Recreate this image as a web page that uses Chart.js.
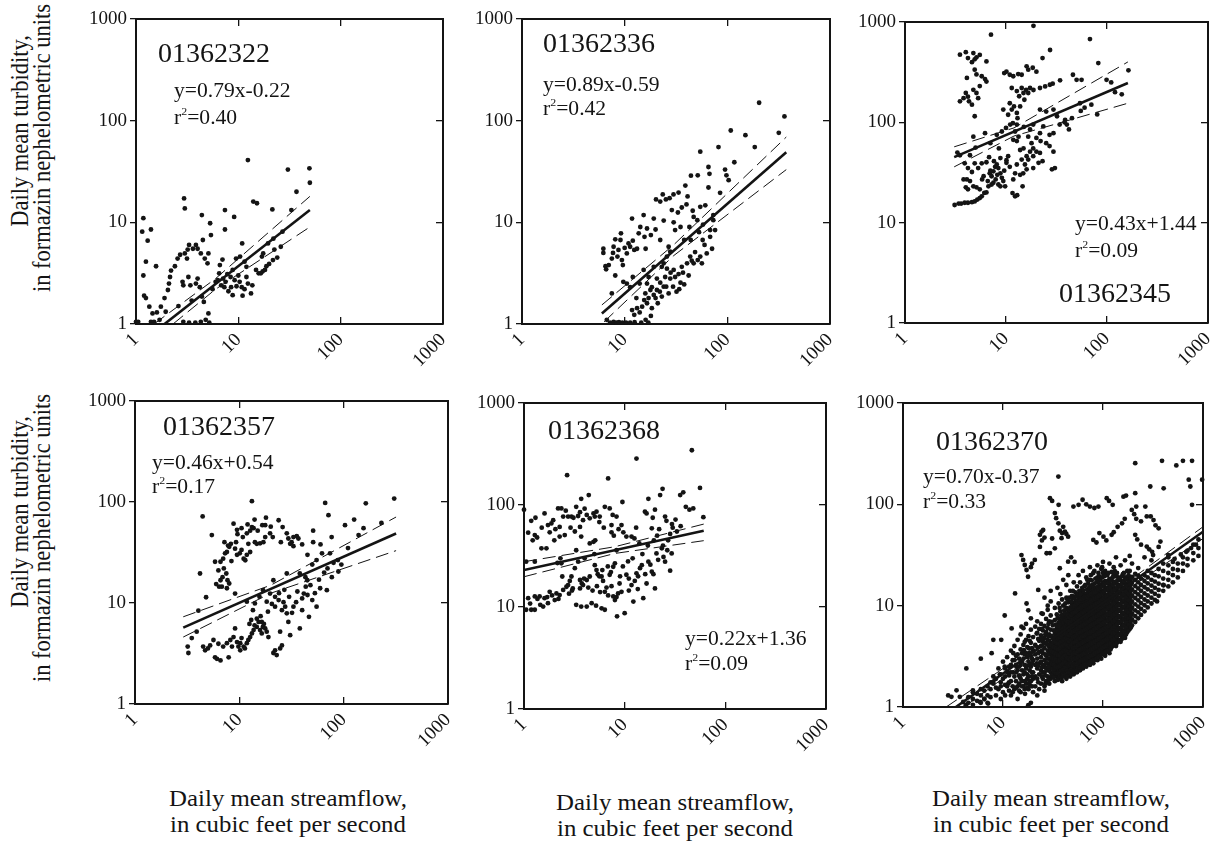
<!DOCTYPE html>
<html>
<head>
<meta charset="utf-8">
<script src="https://cdn.jsdelivr.net/npm/chart.js@4.4.0/dist/chart.umd.min.js"></script>
<style>
  body { margin:0; background:#fff; width:1214px; height:844px; position:relative; overflow:hidden;
         font-family:"Liberation Serif", "Times New Roman", serif; color:#141414; }
  canvas { position:absolute; }
  .t { position:absolute; white-space:nowrap; line-height:1; }
  .id { font-size:28px; }
  .eq { font-size:20px; transform:scaleX(1.08); transform-origin:left top; }
  .eq sup { font-size:11px; vertical-align:9px; line-height:0; }
  .xt { font-size:23px; transform:translateX(-50%) scaleX(1.08); text-align:center; }
  .yt { font-size:22.5px; transform:translate(-50%,-50%) rotate(-90deg) scaleY(1.08); }
</style>
</head>
<body>

<div class="t yt" style="left:21px;top:131px">Daily mean turbidity,</div>
<div class="t yt" style="left:43px;top:148px">in formazin nephelometric units</div>
<div class="t yt" style="left:21px;top:512px">Daily mean turbidity,</div>
<div class="t yt" style="left:43px;top:538px">in formazin nephelometric units</div>

<div class="t xt" style="left:288px;top:787px">Daily mean streamflow,</div>
<div class="t xt" style="left:288px;top:813px">in cubic feet per second</div>
<div class="t xt" style="left:675px;top:791px">Daily mean streamflow,</div>
<div class="t xt" style="left:675px;top:817px">in cubic feet per second</div>
<div class="t xt" style="left:1051px;top:787px">Daily mean streamflow,</div>
<div class="t xt" style="left:1051px;top:813px">in cubic feet per second</div>

<script>
// station labels and fit equations, one per panel
const stations = ['01362322', '01362336', '01362345', '01362357', '01362368', '01362370'];
const equations = ['y=0.79x-0.22', 'y=0.89x-0.59', 'y=0.43x+1.44', 'y=0.46x+0.54', 'y=0.22x+1.36', 'y=0.70x-0.37'];
const rsq = ['0.40', '0.42', '0.09', '0.17', '0.09', '0.33'];

const decades = [1, 10, 100, 1000];

// [streamflow cfs, turbidity FNU]
const pts1 = [[1.0,1.05],[1.05,1.05],[1.15,8.1],[1.18,11],[1.3,6.6],[1.4,8.5],[1.25,4.1],[1.18,3.0],[1.2,1.9],[1.25,1.8],[1.35,1.48],[1.45,1.27],[1.4,1.05],[1.5,1.05],[1.57,3.7],[1.6,1.3],[1.75,1.48],[1.7,1.1],[1.9,1.8],[2.05,2.16],[1.95,1.32],[2.1,2.5],[2.15,2.9],[2.2,3.35],[2.4,3.7],[2.55,4.4],[2.7,4.8],[2.95,17.2],[3.0,13.7],[2.85,2.6],[2.9,2.4],[3.0,4.95],[3.2,5.4],[3.3,6.0],[3.15,4.4],[3.25,2.9],[3.4,2.4],[3.6,5.5],[3.85,6.0],[4.0,5.5],[4.3,4.95],[4.5,6.7],[4.4,11.8],[3.85,2.5],[4.0,2.8],[4.2,2.3],[4.4,1.86],[4.6,1.65],[4.7,4.4],[5.0,3.95],[5.1,4.95],[5.3,9.8],[5.4,7.5],[5.1,1.27],[4.8,1.1],[2.9,1.05],[3.3,1.03],[3.8,1.03],[4.3,1.05],[5.2,1.03],[2.6,1.5],[3.5,1.7],[5.6,2.2],[6.0,2.6],[6.3,2.7],
  [7.4,13.2],[7.4,8.5],[7.0,4.3],[6.5,3.15],[7.1,2.8],[7.5,2.6],[8.4,2.9],[8.8,3.4],[9.5,4.4],[9.1,11.3],[8.8,1.92],[8.5,2.3],[9.6,2.35],[10.3,2.6],[10.8,2.3],[11.0,1.9],[10.9,6.2],[10.4,4.6],[11.5,4.1],[12.4,41],[12,3.65],[12,2.9],[12.4,2.5],[13.3,2.0],[13.7,2.4],[14,16],[15.2,15.4],[14.9,3.4],[15.8,3.15],[16.6,3.15],[17.3,3.3],[18.2,3.4],[18.8,3.7],[17,4.6],[17.5,4.95],[19.5,6.2],[21.5,13.4],[22,6.9],[22.5,5.4],[21.8,4.25],[26,5.75],[27,8.1],[30.5,33],[33,13.2],[37,20],[49.5,34],[50,24.5],[6.6,3.8],[7.3,2.3],[8,2.1],[9.2,2.7],[10,3.0],[11.5,2.2],[24,4.5],[20,3.9],[7.8,3.1],[6.8,2.4]];

const pts2 = [[6.2,5.5],[6.2,5.0],[6.5,3.7],[6.6,3.45],[7.0,3.8],[7.5,4.4],[7.8,5.75],[8.1,6.8],[7.7,5.0],[8.1,3.0],[8.7,5.35],[9.1,6.7],[9.2,7.8],[9.4,4.25],[9.6,3.8],[10.5,4.95],[10.9,6.2],[11.3,5.75],[11.8,10.9],[12.4,5.35],[13.2,5.5],[13.7,7.8],[14.2,9.0],[15.3,11.8],[15.6,7.2],[16.5,8.7],[19.2,10.9],[20.2,16.8],[22.2,16],[23.5,18.8],[22.2,6.7],[25.2,16.8],[27.4,17.3],[28.8,13.2],[29.9,18.8],[33.5,19.6],[39,23],[41,18],[44.2,28.8],[51.5,29],[54.5,49.5],[65.5,35],[67,30],[65.5,22],[82,55],[85,19.5],[95,33],[98,29],[103,26],[108,80],[117,39],[150,72],[185,55],[204,150],[317,76],[360,110],
  [6.7,1.1],[7.2,1.03],[7.8,1.05],[8.3,1.03],[8.8,1.04],[9.5,1.03],[10.3,1.03],[11.3,1.03],[12.5,1.04],[14.5,1.03],[17,1.03],[7.5,2.0],[9.7,2.6],[10.5,2.5],[11.3,2.3],[12,2.9],[11.8,1.37],[12.4,1.23],[13.2,1.43],[14,1.3],[14.8,1.48],[15.5,1.72],[15.9,2.0],[16.5,1.6],[17.1,1.8],[17.8,2.16],[18.4,1.43],[18.4,2.3],[19.2,1.93],[20,1.8],[20.6,2.16],[20.6,2.8],[22,2.08],[22.2,2.55],[23,1.86],[24,2.33],[24.8,2.9],[25.4,2.33],[25.8,3.5],[26.8,2.0],[27.8,2.8],[28,3.2],[29.6,2.33],[30,3.4],[31,2.9],[32,2.08],[33.5,3.1],[35,2.55],[36,3.65],[38,2.45],[40.5,3.95],[42,3.0],[43.5,4.6],[44,6.7],[47,3.95],[48.5,5.1],[51.5,4.25],[54.5,4.6],[56.5,3.95],[57.5,6.7],[63,4.95],[68,8.4],[71,5.5],[73,10.5],[42.7,9],[38,6.7],[35,9],[31,8.4],[26.8,5.75],[27.8,5.15],[25.8,4.6],[24,3.95],[23,3.65],[19.2,3.65],[17.1,2.9],[15.3,3.4],[14,2.5],[16.5,2.5],[51,10.5],[47,11.3],[54.5,14.2],[61,14.7],[73,11.8],[76,8.4],[68,7.2],[13,1.8],[21,1.6],[18,1.2],[16,1.1],[34,2.2],[37,3.2],[45,4.2],[60,6],[53,8],[58,9.5],[8.5,4.6],[10,5.6],[12,6.6],[16,5.5],[18,7.5],[20,8.5],[24,10.4],[30,10],[33,12.5],[36,14],[46,13],[40,15]];

const pts3 = [[3.5,472],[4.0,500],[4.2,437],[4.75,490],[4.9,425],[4.6,398],[5.1,445],[5.5,470],[6.4,405],[4.1,277],[4.9,335],[5.1,300],[5.5,230],[5.75,288],[6.2,270],[6.4,255],[3.5,162],[3.8,174],[4.0,196],[4.2,180],[4.3,162],[4.6,150],[4.75,211],[5.1,196],[5.3,174],[4.9,115],[7.1,748],[18.7,915],[67.8,676],[27.3,526],[23,437],
  [9.6,310],[10.1,320],[10.9,298],[11.8,288],[13.2,303],[14.3,298],[16,362],[16.6,335],[18.4,350],[20,320],[11.4,220],[12.8,205],[13.5,182],[14.3,220],[14.9,196],[15.2,168],[15.8,210],[16.6,196],[17.3,220],[10.9,155],[11.4,134],[12,144],[12.8,124],[10.5,119],[9.4,134],[13.8,144],[18.7,210],[21.7,220],[24.4,228],[27.2,237],[29,243],[34.3,262],[46,298],[50,265],[56,265],[82,390],[99,265],[163,330],[54,155],[38.5,106],[34,95],[29.5,78],[27,75],[23.4,91],[21.7,78],[18.6,95],[17.3,85],[16.6,72],[21.7,134],[25,128],[29.5,134],[17.9,62],[18.6,55],[17.3,51],[16,46],[14.9,55],[13.8,53],[14.3,42.5],[15.4,38],[16.6,42.5],[18.6,46],[20,51],[21.7,49.5],[23,41],[21,39.5],[18.6,35],[16,34],[14.8,31],[13.8,30],[12.8,38],[12.3,31],[11.8,27],[14.6,23],[11.6,19.7],[12.3,18.3],[12.9,18.8],[11.8,67],[12.3,81],[12.8,95],[11.7,98],[12.8,65],[13.3,72],[29.5,51],[28.5,34],[30.5,35],[10.9,36],[10.1,39.5],[10.5,46],[8.8,44],[9.1,81],[8.1,75],[6.2,78],[4.75,72],[40,95],[45,110],[55,130],[60,140],[70,150],[80,120],[110,250],[120,200],[140,190],[25,62],[27,58],[20,70],[22,65],[15,90],[13,110],[11,95],[10,88],[38,100],[32,115],[42,85],[7,62],[8.5,55],
  [3.1,15],[3.4,15.5],[3.6,15.5],[3.9,15.8],[4.2,15.8],[4.6,16],[4.9,16.3],[5.2,17],[5.5,17.6],[5.75,18.3],[6.1,19.8],[6.4,20],[6.7,23],[3.8,27],[4.1,27],[4.4,26],[4.75,23],[5.1,22.5],[5.5,21.5],[4.0,22.5],[4.2,21.5],[3.5,47],[3.9,39],[4.4,47],[4.9,39],[5.3,35],[5.75,39],[6.9,31],[7.2,29],[7.5,32.5],[7.8,36],[8.1,38],[8.4,35],[8.8,31],[9.1,28],[9.4,26],[7.9,27],[7.5,25],[7.2,24],[8.4,24],[8.8,23],[9.8,23],[10.1,42],[6.4,40],[6.0,29],[4.2,35],[6.6,26],[7.0,33],[5.8,27],[3.3,50],[4.6,32],[9.6,33],[8.2,30],[7.6,41],[6.8,45],[5.0,56]];

const pts4 = [[3.2,3.7],[3.25,3.2],[3.5,4.5],[3.9,5.2],[4.05,8.4],[4.2,19.6],[4.45,72],[4.8,11.4],[4.5,3.7],[4.7,3.4],[5.0,3.55],[5.25,3.8],[5.45,47],[5.65,4.3],[5.85,25.6],[5.85,2.9],[6.1,2.8],[6.3,3.95],[6.3,21],[6.6,25.6],[6.6,16.8],[6.8,14.5],[6.0,15.4],[6.4,14.5],[7.1,22],[7.5,19.6],[7.0,27.5],[7.3,31],[7.6,32],[7.8,37],[8.0,36],[7.7,16.8],[8.0,15.6],[7.6,14],[8.3,38.5],[8.8,61],[9.5,53],[9.1,34.5],[9.5,30],[10.1,31],[10.5,33.5],[11,27.5],[11.4,26.5],[11.8,30],[12.2,38.5],[12.7,32],[10.5,55],[11.8,49],[12.7,52],[13.2,56.5],[13.7,55],[14.1,40],[14.7,38.5],[15.8,39],[16.6,59],[17.7,59],[17.7,45],[17,40],[13.2,102],[19.7,49],[20.9,45],[23.8,66],[26,56.5],[28.5,49],[29.5,43.5],[30.7,38.5],[31.7,40],[33,36.5],[35.5,46],[36.8,43.5],[51,52],[51,40],[66.5,98],[71.5,74],[76.7,45],[126,67],[139,47],[155,55],[163,97],[230,62],[305,108],[103,59],
  [7.0,3.7],[7.6,4.0],[8.2,4.3],[8.5,3.7],[8.8,4.6],[9.1,5.6],[9.5,4.1],[9.8,3.7],[10.2,4.0],[10.5,4.5],[11,3.7],[11.8,4.0],[12.2,4.3],[12.7,4.6],[13.2,5.0],[13.7,5.4],[14.7,5.8],[15.3,6.5],[16.4,5.0],[16.8,5.8],[17.7,5.6],[18.3,5.2],[19,4.6],[14.7,7.0],[16.4,6.5],[13.5,8.5],[14.1,9.9],[15.6,11.5],[16.9,13.4],[19.7,12.4],[18.3,10.3],[22,9.2],[23.8,10.7],[25.6,8.5],[27.5,9.2],[28.5,7.9],[29.5,6.5],[30.7,4.8],[33,9.2],[38,5.6],[40,11.1],[41.5,12.4],[43.3,14.5],[44.8,16.8],[46.5,7.3],[50,10.7],[55,9.2],[59.5,14],[69,13.4],[21.2,3.2],[22,3.4],[22.8,3.05],[24.6,3.55],[25.6,3.8],[7.9,2.9],[6.6,2.7],[10.2,3.4],[11.3,3.55],[24.6,5.2],[11.8,10.3],[9.1,12.4],[21.2,16.8],[28.5,19.6],[38,19.6],[43,18],[55,26.6],[62,31],[74,31],[88,26.6],[89,20.5],[77,18],[12.5,6.2],[13,6.8],[14,6.0],[15.8,5.4],[16,7.4],[17.2,6.2],[18.8,8.2],[20.5,9.8],[22,11.5],[24,12.5],[26.5,10.2],[27,13.5],[30,11.5],[32,8.0],[35,10.2],[36,13],[40,8.5],[45,12],[48,15],[53,12.5],[58,17],[65,20],[70,22],[80,25],[95,24],[110,35],[8.4,26],[9.3,40],[10.8,45],[7.2,40],[6.9,18],[12,60],[15,52],[20,57],[25,40],[33,45],[40,38],[45,30],[50,24],[60,38],[18,70],[14,67],[9.6,48]];

const pts5 = [[1.1,53.5],[1.18,70],[1.28,50.7],[1.35,48],[1.49,37.6],[1.6,82.6],[1.73,63.5],[1.8,54],[1.87,66],[1.95,71],[2.05,58],[2.18,92.5],[2.26,61],[2.35,92.5],[2.45,77],[2.26,49],[2.54,50.7],[2.68,196],[2.74,77],[2.96,77],[3.1,75],[3.3,96],[3.45,78],[3.7,115],[3.6,61],[3.86,71],[4.2,80],[4.4,125],[4.5,74],[4.9,82.6],[5.05,77],[5.25,86],[5.65,77],[3.7,49],[4.5,42],[4.9,43.5],[5.1,45],[6.35,96],[6.85,182],[7.1,92.5],[7.4,63.5],[7.6,80],[7.4,54],[7.8,50],[8.3,77],[9.5,107],[9.3,63.5],[9.7,54],[10.4,49],[11.7,49],[13.1,285],[12.5,47],[15.9,86],[16.5,82.6],[17.2,115],[18.6,59],[19,75],[20,90],[22.5,125],[23.8,144],[25.2,77],[26,70],[28.3,52],[29.5,65],[32,72],[35.6,125],[38.2,133],[40.5,96],[44,90],[46.5,344],[48,92.5],[56,147],[60.5,76],[30,60],[22,58],[21,50],[19.5,45],[17,40],[24,40],[27,45],[33,55],[36,62],[14,42],[13,60],[8.7,58],[6.2,60],[5.6,68],[2.9,60],[3.2,55],[2.0,45],[1.5,60],[1.3,75],[1.0,90],[1.22,45],[3.6,85],[4.0,92],[2.6,88],
  [1.05,9.4],[1.1,12.2],[1.18,9.4],[1.28,9.4],[1.28,12.7],[1.36,12],[1.43,12.7],[1.55,10.1],[1.6,12.2],[1.73,10.9],[1.8,14.1],[1.9,13],[2.02,11.7],[2.1,13.6],[2.26,13.1],[2.45,14.7],[2.4,19.9],[2.64,15.8],[2.74,16.4],[2.85,18],[2.96,19.9],[3.2,24],[3.45,27.8],[3.6,15.2],[3.75,17],[3.86,16.4],[4.2,18.4],[4.35,15.5],[4.5,19.9],[5.05,25.7],[5.25,23],[5.4,21],[5.6,20],[5.9,19.9],[6.1,18],[6.35,14.1],[6.6,15.5],[6.85,13],[7.1,20.7],[7.3,22],[7.7,24.8],[8.0,26.8],[8.3,36],[7.4,16],[7.7,12.7],[8.0,11.7],[8.3,12.5],[8.6,13.6],[8.9,17],[9.3,14.1],[8.4,8.1],[10,8.7],[10.4,20.7],[11,19],[11.7,16.4],[12.2,11.3],[12.6,18],[13.1,21.4],[13.6,20],[14.2,24],[14.8,25.7],[15.3,12.2],[16,21],[17.2,27.8],[18.6,22.2],[19.3,21],[20,15.2],[20.7,33.5],[21.5,29],[23.4,37.6],[24.3,31],[25.2,27.8],[26.5,36],[28.3,22.7],[29.3,33.5],[1.67,37.6],[1.28,27.8],[1.05,27.8],[2.35,26.8],[2.15,27],[3.05,15.2],[3.3,10.5],[3.7,10.1],[4.2,10.1],[4.7,10.9],[5.2,10.3],[5.9,9.7],[6.35,9.4],[3.6,18.4],[3.95,19],[2.8,13.5],[3.0,14.5],[2.2,12],[1.7,12.5],[1.45,10.5],[1.15,10.8],[4.8,14.5],[5.3,16],[5.7,14],[6.0,23],[6.8,25],[9.6,25],[10.8,28],[12,30],[15,33],[9,20],[11,14.5],[13.5,15],[16.5,17],[18,26],[2.3,30],[4.0,30],[3.3,36],[5.0,33]];

// panel 6: scattered points, then the dense core as [flow, turbidity, turbidity, ...] columns
const pts6 = [[210,255],[389,269],[541,242],[630,269],[777,269],[720,175],[747,150],[980,175],[777,99],[297,150],[404,144],[35.8,188],[29.5,115],[31,108],[36,99],[50.6,95],[57,99],[62.5,111],[68,100],[74,95],[82,92],[90,95],[109,115],[115,108],[125,99],[160,119],[170,122],[210,129],[215,95],[265,95],[33,82],[34,73],[35.8,65],[40,60],[41.6,53.8],[43,51],[44.8,48],[38.5,46.4],[37,55],[39,52],[31,46],[33,36.8],[24.3,53.8],[25.2,55.8],[23.4,50],[26,47],[24.5,44],[23.4,38],[27.3,32.9],[29.5,33],[37,23.4],[44.8,27.2],[48,30],[52,27],[15.3,31.6],[15.9,28.3],[16.5,25.2],[17.2,22.5],[19.5,26],[20.8,28.3],[19,24],[17.8,19.3],[80,44.5],[86,42],[92,52],[101,48],[108,44],[122,50],[128,53],[140,60],[155,65],[165,72],[194,88],[205,80],[215,72],[240,68],[274,76],[300,76],[320,70],[335,62],[360,58],[210,50],[220,45],[240,40],[274,38.3],[290,36],[310,34],[375,42.9],[360,38],[317,31.6],[450,31.6],[520,29],[600,32],[680,34],[760,37],[850,40],[404,15.9],[347,11],[13.2,13.2],[10.4,8],[8,4.6],[6,3.0],[4.3,2.4],[7.7,3.4],[5,1.46],[2.83,1.3],[3.05,1.26],[3.43,1.46],[3.7,1.26],[4,1.12],[4.25,1.04],[5.9,1.12],[6.5,1.2],[7.1,1.08],[8.0,1.77],[9.3,2.1],[9.6,4.6],[10.4,2.5],[11.3,1.7],[11.9,2.2],[12.2,5.96],[12.7,3.4],[13.6,2.5],[14.7,1.98],[16.2,3.63],[16.6,1.35],[17.9,1.04],[15.3,6.2],[17.2,10.5],[17.9,9.0],[21.7,5.3],[22.5,14.3],[24.3,8.4],[21.7,2.7],[26,12],[30,14],[35,15],[40,18],[45,20],[28,10],[14,1.2],[22,1.3],[26,1.45],[19,1.1]];
const core6 = [
  [8,1.7,2.0],[9,1.5,2.4],[10,1.4,1.9,2.8],[11,1.6,2.2,3.1],[12,1.3,1.8,2.6,3.6],[13,1.5,2.0,2.9,4.0],[14,1.6,2.3,3.3,4.6],
  [15,1.4,1.9,2.6,3.7,5.2],[16,1.6,2.1,3.0,4.1,6.0],[17,1.7,2.4,3.4,4.6,6.6],[18,1.5,2.0,2.8,3.8,5.0],[19,1.8,2.5,3.2,4.3,5.8,7.5],
  [20,1.4,1.9,2.2,2.9,3.6,4.9],[21,1.6,2.0,2.6,3.3,4.1,6.2],[22,1.9,2.4,3.0,3.9,5.4,7.0],[23,1.5,2.1,2.7,3.5,4.5,5.9],
  [24,1.7,2.3,2.8,3.1,4.0,5.1,6.6],[25,1.9,2.2,2.6,3.4,4.4,5.7,8.3],[26,1.6,2.2,2.5,2.9,3.8,4.8,6.3],[27,1.8,2.4,2.7,3.2,4.2,5.5,7.4],
  [28,2.0,2.3,2.7,3.0,3.6,4.6,6.0,9.1],[29,1.7,2.3,2.6,3.0,3.4,3.9,5.2,7.0],[30,1.9,2.2,2.5,2.8,3.3,3.7,4.3,5.8,8.0,11],
  [31.5,2.1,2.4,2.8,3.2,3.7,4.2,4.8,6.4],[33,1.8,2.1,2.4,2.8,3.2,3.6,4.1,4.7,5.3,7.2,9.5],[34.5,2.0,2.3,2.6,3.0,3.5,4.0,4.5,5.2,6.0,8.2],
  [36,1.9,2.3,2.6,3.0,3.4,3.9,4.4,5.0,5.8,6.8,10.5],[37.5,2.1,2.4,2.8,3.2,3.6,4.1,4.7,5.4,6.2,7.3,8.8,13],
  [39,1.8,2.2,2.5,2.9,3.3,3.7,4.2,4.8,5.5,6.4,7.5,11.5],[41,2.2,2.5,2.9,3.3,3.8,4.3,4.9,5.6,6.5,7.6,9.0],
  [43,1.9,2.3,2.6,3.0,3.4,3.9,4.4,5.0,5.7,6.6,7.8,9.5,12,16],[45,2.1,2.4,2.8,3.2,3.7,4.2,4.8,5.5,6.3,7.3,8.6,10.8],
  [47,2.0,2.5,2.8,3.2,3.6,4.1,4.7,5.3,6.1,7.0,8.2,9.6,14],[49,2.3,2.6,3.0,3.4,3.9,4.4,5.0,5.8,6.6,7.6,8.8,10.4,12.5],
  [51,2.1,2.4,2.7,3.1,3.5,4.0,4.5,5.2,5.9,6.8,7.8,9.0,10.5,17],[53,2.4,2.8,3.1,3.6,4.0,4.6,5.2,6.0,6.9,7.9,9.2,11,13.5],
  [55,2.2,2.6,2.9,3.3,3.7,4.2,4.8,5.5,6.2,7.1,8.1,9.5,11.2,15.5],[57,2.5,2.9,3.3,3.8,4.3,4.9,5.6,6.4,7.3,8.5,9.8,12,20],
  [59,2.3,2.7,3.0,3.5,3.9,4.5,5.1,5.8,6.6,7.6,8.7,10.2,12,17],[61,2.6,3.0,3.4,3.9,4.5,5.1,5.8,6.7,7.7,8.9,10.4,14],
  [63,2.4,2.8,3.1,3.6,4.1,4.6,5.3,6.0,6.9,7.9,9.1,10.8,12.8,22],[65,2.7,3.1,3.6,4.1,4.7,5.4,6.1,7.0,8.0,9.3,10.8,13,15.5],
  [68,2.5,2.9,3.3,3.8,4.3,4.9,5.6,6.4,7.3,8.4,9.6,11.2,13,19],[71,2.8,3.2,3.7,4.2,4.9,5.6,6.4,7.3,8.4,9.7,11.3,13.6,16.5],
  [74,2.6,3.0,3.5,4.0,4.5,5.2,5.9,6.8,7.7,8.8,10.1,11.8,13.8,18,24],[77,3.0,3.4,3.9,4.5,5.1,5.9,6.7,7.7,8.9,10.3,12,14.5,17.8],
  [80,2.7,3.1,3.6,4.1,4.7,5.4,6.2,7.1,8.1,9.3,10.7,12.4,14.6,21],[84,3.1,3.6,4.1,4.7,5.4,6.2,7.1,8.2,9.4,10.8,12.6,15,18.5],
  [88,2.9,3.3,3.8,4.4,5.0,5.7,6.5,7.5,8.6,9.9,11.4,13.2,15.2,19,25],[92,3.3,3.8,4.3,5.0,5.7,6.5,7.5,8.6,9.9,11.5,13.3,16,19.5],
  [96,3.0,3.5,4.0,4.6,5.2,6.0,6.9,7.9,9.1,10.5,12,14,16.2,23],[100,3.5,4.0,4.6,5.3,6.0,6.9,7.9,9.1,10.5,12.1,14,17,21,27],
  [105,3.2,3.7,4.2,4.8,5.5,6.3,7.2,8.3,9.6,11,12.7,15,17.5,22],[110,3.7,4.3,4.9,5.6,6.4,7.3,8.4,9.7,11.1,12.8,15,17.5,20],
  [116,3.4,3.9,4.5,5.2,5.9,6.8,7.7,8.9,10.2,11.8,13.6,15.8,18.4,26],[122,3.9,4.5,5.2,5.9,6.8,7.8,9.0,10.3,11.8,13.7,16,18.5,21.5],
  [128,4.3,4.9,5.6,6.5,7.4,8.5,9.7,11.2,12.9,15,17.2,20,24],[135,4.0,4.6,5.3,6.1,7.0,8.0,9.2,10.6,12.2,14,16.5,19.5,30],
  [142,4.6,5.3,6.0,6.9,7.9,9.1,10.4,12,13.8,16,19],[150,4.4,5.1,5.8,6.7,7.6,8.8,10,11.5,13.2,15.3,17.8,25],
  [158,5.0,5.7,6.5,7.5,8.5,9.8,11.2,12.9,14.8,17.3,20.5],[166,4.8,5.5,6.3,7.2,8.2,9.5,10.8,12.4,14.2,16.5,19,28],
  [175,5.5,6.3,7.2,8.2,9.4,10.8,12.4,14.3,16.4,19,22],[185,5.9,6.8,7.8,8.9,10.2,11.7,13.4,15.5,17.7,22,31],
  [195,6.4,7.3,8.4,9.6,11,12.6,14.5,16.8,19.2,26],[210,6.9,7.9,9.0,10.3,11.9,13.6,15.6,18,20.6],
  [225,7.5,8.6,9.8,11.3,12.9,14.8,17,19.8,23.5],[240,8.1,9.3,10.6,12.2,14,16,18.5],[260,8.8,10.1,11.5,13.2,15.2,17.5,20,30],
  [280,9.6,11,12.6,14.5,16.6,19,22],[305,10.5,12,13.8,15.8,18,21,28],[330,11.4,13.1,15,17.3,20],[360,12.5,14.3,16.5,19.5,23],
  [400,14,16,18.5,22,26],[450,15.5,18,21,25,30],[500,17,20,23,27],[560,19,22.5,26],[630,22,26,30],[700,25,29,35],
  [800,28,33,40],[900,31,37,45]];
// second pass over the blackest part of the core, between the columns above
const core6b = [
  [22.5,1.75,2.55,3.4,4.7],[24.5,2.0,2.45,3.6,4.7,5.9],[26.5,1.7,2.05,3.3,4.3,5.2],[28.5,1.85,2.5,3.3,4.1,5.0,6.6],
  [30.7,2.05,2.65,3.05,3.5,4.0,5.0,6.9],[32.2,1.95,2.25,2.6,3.0,3.45,3.9,4.4,5.7],[33.8,2.15,2.5,2.95,3.35,3.8,4.35,4.95,5.6,6.5],
  [35.2,1.85,2.15,2.45,2.8,3.25,3.7,4.25,4.75,5.5,6.3,7.6],[36.8,2.0,2.5,2.85,3.25,3.75,4.2,4.85,5.35,6.2,7.0,9.5],
  [38.2,1.95,2.3,2.65,3.05,3.45,3.95,4.45,5.1,5.9,6.8,8.0],[40,2.0,2.35,2.7,3.1,3.55,4.05,4.6,5.25,6.0,6.9,8.2,10],
  [42,2.1,2.45,2.75,3.2,3.6,4.15,4.7,5.35,6.1,7.1,8.4,10.5],[44,2.0,2.3,2.65,3.05,3.5,4.0,4.6,5.2,5.95,6.9,8.0,9.2,11.5],
  [46,2.2,2.6,2.95,3.4,3.9,4.45,5.1,5.75,6.6,7.7,9.1,12],[48,2.1,2.35,2.7,3.1,3.55,4.05,4.6,5.3,6.05,7.0,8.0,9.3,11],
  [50,2.25,2.55,2.95,3.35,3.8,4.3,4.9,5.55,6.3,7.3,8.4,9.8,11.8,14],[52,2.3,2.65,3.0,3.45,3.85,4.35,4.95,5.65,6.5,7.4,8.6,10,12],
  [54,2.3,2.6,2.95,3.4,3.9,4.45,5.05,5.8,6.6,7.6,8.8,10.3,12.5],[56,2.4,2.75,3.1,3.55,4.05,4.6,5.25,6.0,6.85,7.9,9.1,10.6,13],
  [58,2.4,2.8,3.2,3.65,4.2,4.8,5.45,6.2,7.0,8.1,9.3,11,14],[60,2.45,2.85,3.2,3.7,4.2,4.75,5.45,6.25,7.2,8.3,9.6,11.5,13],
  [62,2.5,2.9,3.3,3.8,4.3,4.95,5.6,6.4,7.4,8.5,9.8,11.6,15],[64,2.55,2.95,3.35,3.85,4.4,5.0,5.7,6.55,7.5,8.6,10,11.9,14],
  [66.5,2.6,3.0,3.4,3.95,4.5,5.15,5.85,6.7,7.7,8.9,10.3,12.2,16],[69.5,2.65,3.05,3.5,4.0,4.6,5.3,6.0,6.9,7.9,9.1,10.5,12.3,14.5,18],
  [72.5,2.7,3.1,3.55,4.1,4.7,5.35,6.1,7.0,8.1,9.3,10.8,12.6,15],[75.5,2.8,3.2,3.7,4.25,4.85,5.5,6.3,7.25,8.3,9.6,11.1,13,15.7,20],
  [78.5,2.85,3.25,3.75,4.3,4.9,5.6,6.45,7.4,8.5,9.8,11.4,13.3,16],[82,2.9,3.35,3.85,4.4,5.05,5.8,6.65,7.6,8.75,10.1,11.7,13.6,16.5,22],
  [86,3.0,3.45,3.95,4.55,5.2,6.0,6.85,7.85,9.0,10.4,12,14,17],[90,3.1,3.55,4.1,4.7,5.4,6.2,7.1,8.1,9.3,10.7,12.4,14.5,17.5,21],
  [94,3.2,3.65,4.2,4.85,5.55,6.4,7.3,8.4,9.6,11.1,12.8,15,18],[98,3.3,3.8,4.35,5.0,5.75,6.6,7.55,8.7,10,11.5,13.3,15.5,19,24],
  [102.5,3.4,3.9,4.5,5.15,5.9,6.8,7.8,9.0,10.3,11.9,13.8,16.2,19.5],[107.5,3.5,4.0,4.6,5.3,6.1,7.0,8.0,9.2,10.6,12.2,14.2,16.6,20],
  [113,3.6,4.15,4.75,5.45,6.25,7.2,8.25,9.5,10.9,12.6,14.6,17,21],[119,3.7,4.25,4.9,5.6,6.45,7.4,8.5,9.8,11.3,13,15,17.6],
  [125,4.0,4.6,5.3,6.0,6.9,7.95,9.1,10.5,12,13.9,16,19],[131,4.1,4.7,5.4,6.2,7.1,8.2,9.4,10.8,12.4,14.4,16.8,22],
  [138,4.3,4.95,5.7,6.5,7.5,8.6,9.9,11.3,13,15,17.5,21],[146,4.5,5.2,5.95,6.85,7.85,9.0,10.3,11.9,13.7,15.8,18.5],
  [154,4.7,5.4,6.2,7.1,8.2,9.4,10.8,12.4,14.3,16.5,19.5],[162,4.9,5.6,6.45,7.4,8.5,9.8,11.3,13,15,17.5,21],
  [170,5.2,6.0,6.85,7.9,9.0,10.4,11.9,13.7,15.8,18.2],[180,5.7,6.5,7.5,8.6,9.8,11.3,13,14.9,17.1,20],
  [190,6.1,7.0,8.0,9.2,10.6,12.2,14,16.1,18.4]];
// the dense tail running down the fitted line toward the lower left
const core6c = [
  [4.5,1.1,1.25],[5,1.05,1.2,1.4],[5.5,1.15,1.35],[6,1.1,1.3,1.5],[6.5,1.2,1.45],[7,1.1,1.3,1.6],[7.5,1.25,1.5,1.75],
  [8.5,1.3,1.55,1.9],[9.5,1.2,1.6,1.75,2.1],[10.5,1.3,1.65,2.0,2.4],[11.5,1.45,1.75,2.05,2.5],[12.5,1.4,1.6,2.2,2.9],
  [13.5,1.55,1.8,2.2,2.6,3.2],[14.5,1.45,1.7,2.05,2.5,3.0],[15.5,1.6,1.8,2.3,2.8,3.4],[16.5,1.5,1.8,2.2,2.6,3.3,4.4],
  [17.5,1.55,1.9,2.1,2.55,3.1,3.9],[18.5,1.65,1.8,2.3,2.6,3.4,4.5],[19.5,1.6,2.0,2.2,2.7,3.0,3.8]];

// regression line and its two confidence curves, read at their ends and near the middle
const fit1 = [[1.9,1],[50,13.2]],  hi1 = [[1.5,1],[6,2.8],[50,18]],    lo1 = [[2.3,1],[6,2.2],[50,9]];
const fit2 = [[6,1.27],[375,49]],  hi2 = [[6,1.54],[30,6.0],[375,69]], lo2 = [[6.3,1.05],[30,4.7],[375,33]];
const fit3 = [[3.07,45],[161,247]], hi3 = [[3.07,57],[12,88],[161,400]], lo3 = [[3.07,36],[12,73],[161,155]];
const fit4 = [[2.9,5.7],[318,48.8]], hi4 = [[2.9,7.3],[20,15],[318,71]], lo4 = [[2.9,4.6],[20,12.5],[318,33]];
const fit5 = [[1,23],[61,56]],     hi5 = [[1,27.8],[8,39],[61,65]],   lo5 = [[1,19.8],[8,33.5],[61,44.7]];
const fit6 = [[3.38,1],[1000,53.7]], hi6 = [[2.7,1],[60,7.9],[1000,60]], lo6 = [[4.1,1],[60,7.1],[1000,46]];

// plot boxes on the page: left, top, right, bottom
const boxes = [[136,19,443,324],[522,19,830,324],[905,22,1208,323],[135,401,448,704],[524,403,826,709],[903,403,1203,707]];
// text anchors: [id x, id baseline, eq x, eq baseline, r2 baseline]
const notes = [[158,62,174,97,124],[543,52,543,91,115],[1059,302,1075,230,257],[163,435,152,469,493],[548,439,685,645,670],[936,450,923,483,508]];

const INK = '#141414';
const FONT = 'Liberation Serif';
const YW = 60, XH = 56, PT = 14, PR = 5;

const toXY = arr => arr.map(([x, y]) => ({ x, y }));
const decadeTicks = s => { s.ticks = decades.map(v => ({ value: v })); };
const unfold = rows => rows.flatMap(([x, ...ys]) => ys.map(y => [x, y]));

function logAxis(pos, extra) {
  const horiz = pos === 'top' || pos === 'bottom';
  return Object.assign({
    type: 'logarithmic', position: pos, axis: horiz ? 'x' : 'y', min: 1, max: 1000,
    afterBuildTicks: decadeTicks,
    ticks: { display: false },
    grid: { drawOnChartArea: false, tickLength: -7, color: INK, lineWidth: 1.3 },
    border: { color: INK, width: 2 },
    afterFit: s => {
      if (horiz) { s.height = 0; s.paddingLeft = 0; s.paddingRight = 0; }
      else { s.width = 0; s.paddingTop = 0; s.paddingBottom = 0; }
    }
  }, extra);
}

function lineSet(pts, width, dash) {
  return { data: toXY(pts), showLine: true, pointRadius: 0, borderColor: INK,
           borderWidth: width, borderDash: dash, fill: false };
}

function panel(i, pts, fit, hi, lo) {
  const [l, t, r, b] = boxes[i];
  const cv = document.createElement('canvas');
  cv.width = YW + (r - l) + PR;
  cv.height = PT + (b - t) + XH;
  cv.style.left = (l - YW) + 'px';
  cv.style.top = (t - PT) + 'px';
  document.body.appendChild(cv);

  new Chart(cv, {
    type: 'scatter',
    data: {
      datasets: [
        lineSet(fit, 2.6, []),
        lineSet(hi, 1, [13, 6]),
        lineSet(lo, 1, [13, 6]),
        { data: toXY(pts), pointRadius: 2.4, pointBackgroundColor: INK, pointBorderWidth: 0, clip: false }
      ]
    },
    options: {
      responsive: false, animation: false, events: [],
      layout: { padding: { top: PT, right: PR, left: 0, bottom: 0 } },
      plugins: { legend: { display: false }, tooltip: { enabled: false } },
      scales: {
        x: logAxis('bottom', {
          ticks: { display: true, color: INK, font: { family: FONT, size: 19 }, padding: 12,
                   minRotation: 45, maxRotation: 45, autoSkip: false, callback: v => String(v) },
          afterFit: s => { s.height = XH; s.paddingLeft = 0; s.paddingRight = 0; }
        }),
        y: logAxis('left', {
          ticks: { display: true, color: INK, font: { family: FONT, size: 19 }, padding: 3,
                   autoSkip: false, callback: v => String(v) },
          grid: { drawOnChartArea: false, tickLength: 6, color: INK, lineWidth: 1.3 },
          afterFit: s => { s.width = YW; s.paddingTop = 0; s.paddingBottom = 0; }
        }),
        x2: logAxis('top'),
        y2: logAxis('right')
      }
    }
  });

  // station id and fitted equation, placed by baseline
  const [ix, ib, ex, eb, rb] = notes[i];
  addText('t id', stations[i], ix, ib - 0.8375 * 28);
  addText('t eq', equations[i], ex, eb - 0.8375 * 20);
  addText('t eq', 'r<sup>2</sup>=' + rsq[i], ex, rb - 0.8375 * 20);
}

function addText(cls, html, x, y) {
  const d = document.createElement('div');
  d.className = cls;
  d.innerHTML = html;
  d.style.left = x + 'px';
  d.style.top = y + 'px';
  document.body.appendChild(d);
}

const all6 = pts6.concat(unfold(core6), unfold(core6b), unfold(core6c));

panel(0, pts1, fit1, hi1, lo1);
panel(1, pts2, fit2, hi2, lo2);
panel(2, pts3, fit3, hi3, lo3);
panel(3, pts4, fit4, hi4, lo4);
panel(4, pts5, fit5, hi5, lo5);
panel(5, all6, fit6, hi6, lo6);
</script>
</body>
</html>
